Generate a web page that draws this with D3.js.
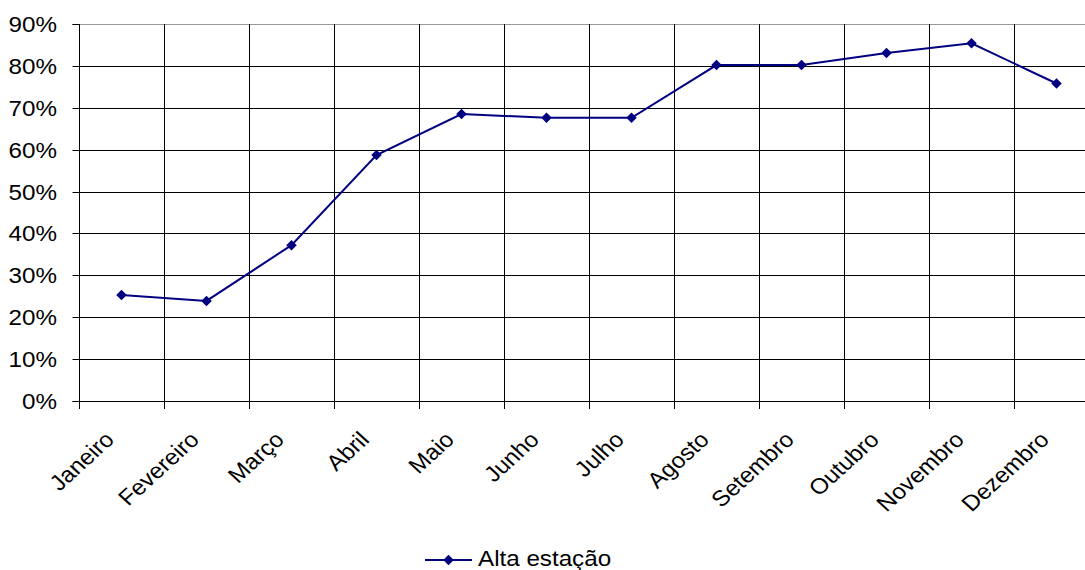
<!DOCTYPE html>
<html><head><meta charset="utf-8">
<script src="https://cdn.jsdelivr.net/npm/d3@7/dist/d3.min.js"></script>
<style>body{margin:0;background:#fff;overflow:hidden}text{font-family:"Liberation Sans",Arial,sans-serif;fill:#000}</style>
</head><body><svg id="c" width="1085" height="570"></svg>
<script>
const months = ["Janeiro","Fevereiro","Março","Abril","Maio","Junho","Julho","Agosto","Setembro","Outubro","Novembro","Dezembro"];
const altaEstacao = [0.253,0.239,0.372,0.587,0.685,0.676,0.676,0.802,0.802,0.831,0.854,0.758];
const yTicks = [0,0.1,0.2,0.3,0.4,0.5,0.6,0.7,0.8,0.9];
const seriesName = "Alta estação";

const FS = "22px", SX = 1.1;
const svg = d3.select("#c");
const L = 79, R = 1099, T = 24, B = 401;
const x = d3.scaleBand().domain(months).range([L, R]).padding(0);
const y = d3.scaleLinear().domain([0, 0.9]).range([B, T]);

// horizontal gridlines
svg.append("g").selectAll("line").data(yTicks.slice(1)).join("line")
  .attr("x1", L).attr("x2", R).attr("y1", d => Math.round(y(d)) + 0.5).attr("y2", d => Math.round(y(d)) + 0.5)
  .attr("stroke", d => d === 0.9 ? "#999" : "#000").attr("stroke-width", 1);
// vertical gridlines at category boundaries
svg.append("g").selectAll("line").data(months.slice(1)).join("line")
  .attr("x1", d => Math.round(x(d)) + 0.5).attr("x2", d => Math.round(x(d)) + 0.5)
  .attr("y1", T).attr("y2", B).attr("stroke", "#000").attr("stroke-width", 1);

// y axis
const yAxis = d3.axisLeft(y).tickValues(yTicks).tickFormat(d3.format(".0%")).tickSize(7);
const gy = svg.append("g").attr("transform", `translate(${L + 0.5},0)`).call(yAxis);
gy.select(".domain").attr("stroke", "#000").attr("d", `M-7,${T + 0.5}H0V${B + 0.5}H-7`);
gy.selectAll(".tick line").attr("stroke", "#000");
gy.selectAll(".tick").attr("transform", d => `translate(0,${Math.round(y(d)) + 0.5})`);
gy.selectAll("text").attr("x", 0).attr("dy", "0.36em")
  .attr("transform", `translate(-22.5,0) scale(${SX},1)`)
  .style("font-size", FS).style("font-family", "Liberation Sans, Arial, sans-serif").attr("fill", "#000");

// x axis line and ticks at boundaries
svg.append("line").attr("x1", L).attr("x2", R).attr("y1", B + 0.5).attr("y2", B + 0.5).attr("stroke", "#000");
const bounds = months.map(m => x(m)).concat([R]);
svg.append("g").selectAll("line").data(bounds).join("line")
  .attr("x1", d => Math.round(d) + 0.5).attr("x2", d => Math.round(d) + 0.5)
  .attr("y1", B).attr("y2", B + 8).attr("stroke", "#000");

// x labels
svg.append("g").selectAll("text").data(months).join("text")
  .attr("transform", d => `translate(${x(d) + x.bandwidth() / 2 - 6},${B + 40}) scale(${SX},1) rotate(-45)`)
  .attr("text-anchor", "end")
  .style("font-size", FS).text(d => d);

// line
const line = d3.line().x((d, i) => x(months[i]) + x.bandwidth() / 2).y(d => y(d));
svg.append("path").datum(altaEstacao).attr("d", line).attr("fill", "none").attr("stroke", "#000080").attr("stroke-width", 2);
const diamond = d3.symbol().type(d3.symbolDiamond2).size(70);
svg.append("g").selectAll("path").data(altaEstacao).join("path")
  .attr("transform", (d, i) => `translate(${x(months[i]) + x.bandwidth() / 2},${y(d)})`)
  .attr("d", diamond).attr("fill", "#000080");

// legend
const lg = svg.append("g").attr("transform", "translate(425,560)");
lg.append("line").attr("x1", 0).attr("x2", 47).attr("y1", 0).attr("y2", 0).attr("stroke", "#000080").attr("stroke-width", 2);
lg.append("path").attr("transform", "translate(23.5,0)").attr("d", diamond).attr("fill", "#000080");
lg.append("text").attr("transform", `translate(53,6) scale(${SX},1)`).style("font-size", FS).text(seriesName);
</script></body></html>
